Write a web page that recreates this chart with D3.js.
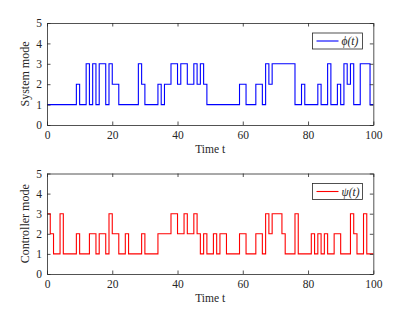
<!DOCTYPE html>
<html>
<head>
<meta charset="utf-8">
<script src="https://cdn.jsdelivr.net/npm/d3@7"></script>
<style>
  html, body { margin: 0; padding: 0; background: #fff; }
  svg { display: block; }
  svg text { font-family: "Liberation Serif", "Times New Roman", serif; fill: #262626; }
</style>
</head>
<body>
<svg id="chart" width="402" height="310"></svg>
<script>
// ---- data ----
const xTicks = [0, 20, 40, 60, 80, 100];
const yTicks = [0, 1, 2, 3, 4, 5];
const tEnd = 100;

// system mode phi(t): switching instants and mode entered at that instant
const phiTimes = [0, 9, 10, 12, 13, 14, 15, 16, 18, 19, 20, 22, 28, 29, 30, 34, 35, 36, 38, 40,
                  41, 43, 45, 46, 47, 48, 49, 59, 61, 64, 66, 67, 68, 69, 76, 78, 79, 83, 84, 86,
                  87, 89, 90, 91, 92, 93, 94, 96, 99];
const phiModes = [1, 2, 1, 3, 1, 3, 1, 3, 1, 3, 2, 1, 3, 2, 1, 2, 1, 2, 3, 2,
                  3, 2, 3, 2, 3, 2, 1, 2, 1, 2, 1, 3, 2, 3, 1, 2, 1, 2, 1, 3,
                  1, 2, 1, 3, 2, 3, 1, 3, 1];

// controller mode psi(t)
const psiTimes = [0, 1, 2, 4, 5, 9, 10, 13, 15, 16, 18, 19, 20, 22, 24, 25, 29, 30, 34, 38,
                  40, 42, 43, 45, 46, 47, 48, 49, 51, 52, 53, 55, 59, 61, 64, 66, 67, 68, 69, 72,
                  73, 76, 77, 81, 82, 83, 84, 85, 86, 88, 90, 93, 94, 95, 97, 98];
const psiModes = [3, 2, 1, 3, 1, 2, 1, 2, 1, 2, 1, 3, 2, 1, 2, 1, 2, 1, 2, 3,
                  2, 3, 2, 3, 2, 1, 2, 1, 2, 1, 2, 1, 2, 1, 2, 1, 3, 2, 3, 2,
                  1, 3, 1, 2, 1, 2, 1, 2, 1, 2, 1, 3, 2, 1, 3, 1];

const panels = [
  { times: phiTimes, modes: phiModes, color: "#0000ff", ylabel: "System mode",
    legend: "\u03d5(t)", top: 23, bottom: 125 },
  { times: psiTimes, modes: psiModes, color: "#ff0000", ylabel: "Controller mode",
    legend: "\u03c8(t)", top: 173.5, bottom: 274 }
];

const svg = d3.select("#chart");
const left = 47, right = 373.3;
const axisColor = "#262626";
const fs = 11.5;
const serif = '"Liberation Serif", "Times New Roman", serif';

const x = d3.scaleLinear().domain([0, 100]).range([left, right]);

panels.forEach(p => {
  const y = d3.scaleLinear().domain([0, 5]).range([p.bottom, p.top]);
  const g = svg.append("g");

  // data line
  const pts = p.times.map((t, i) => [t, p.modes[i]]);
  pts.push([tEnd, p.modes[p.modes.length - 1]]);
  const line = d3.line().x(d => x(d[0])).y(d => y(d[1])).curve(d3.curveStepAfter);
  g.append("path").datum(pts)
    .attr("d", line).attr("fill", "none")
    .attr("stroke", p.color).attr("stroke-width", 1.1);

  // axes (box with inward ticks)
  const tl = 3.5;
  const fmt = d3.format("d");
  const xb = g.append("g").attr("transform", `translate(0,${p.bottom})`)
    .call(d3.axisBottom(x).tickValues(xTicks).tickFormat(fmt).tickSizeInner(-tl).tickSizeOuter(0).tickPadding(6));
  const xt = g.append("g").attr("transform", `translate(0,${p.top})`)
    .call(d3.axisTop(x).tickValues(xTicks).tickSizeInner(-tl).tickSizeOuter(0).tickFormat(""));
  const yl = g.append("g").attr("transform", `translate(${left},0)`)
    .call(d3.axisLeft(y).tickValues(yTicks).tickFormat(fmt).tickSizeInner(-tl).tickSizeOuter(0).tickPadding(5));
  const yr = g.append("g").attr("transform", `translate(${right},0)`)
    .call(d3.axisRight(y).tickValues(yTicks).tickSizeInner(-tl).tickSizeOuter(0).tickFormat(""));
  [xb, xt, yl, yr].forEach(a => {
    a.attr("font-family", null).attr("font-size", null);
    a.select(".domain").attr("stroke", axisColor).attr("stroke-width", 0.8);
    a.selectAll(".tick line").attr("stroke", axisColor).attr("stroke-width", 0.8);
    a.selectAll(".tick text").style("font-family", serif)
      .style("font-size", fs + "px").attr("fill", axisColor);
  });

  // axis labels
  g.append("text").attr("x", (left + right) / 2).attr("y", p.bottom + 28)
    .attr("text-anchor", "middle").style("font-size", fs + "px").text("Time t");
  g.append("text")
    .attr("transform", `translate(29,${(p.top + p.bottom) / 2}) rotate(-90)`)
    .attr("text-anchor", "middle").style("font-size", (fs + 0.5) + "px").text(p.ylabel);

  // legend
  const lx = 312.5, ly = p.top + 10, lw = 50, lh = 16;
  g.append("rect").attr("x", lx).attr("y", ly).attr("width", lw).attr("height", lh)
    .attr("fill", "#fff").attr("stroke", axisColor).attr("stroke-width", 0.8);
  g.append("line").attr("x1", lx + 4).attr("x2", lx + 26)
    .attr("y1", ly + lh / 2).attr("y2", ly + lh / 2)
    .attr("stroke", p.color).attr("stroke-width", 1.1);
  g.append("text").attr("x", lx + 29).attr("y", ly + lh / 2 + 4)
    .style("font-size", fs + "px").style("font-style", "italic").text(p.legend);
});
</script>
</body>
</html>
